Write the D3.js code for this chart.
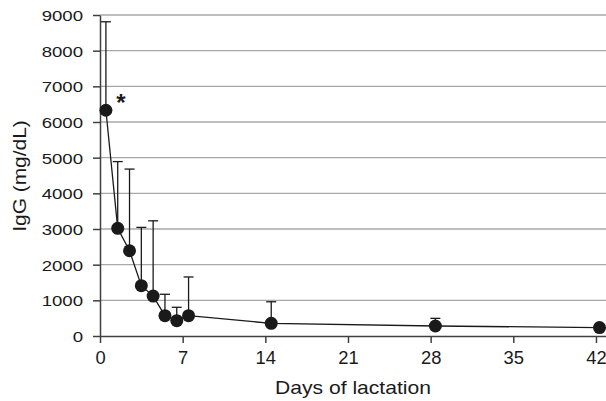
<!DOCTYPE html>
<html>
<head>
<meta charset="utf-8">
<script src="https://cdn.jsdelivr.net/npm/d3@7"></script>
<style>
  body { margin: 0; background: #fff; }
  text { font-family: "Liberation Sans", Arial, sans-serif; fill: #1a1a1a; }
</style>
</head>
<body>
<svg id="chart" width="606" height="401"></svg>
<script>
// days of lactation for each sample
const days = [0.5, 1.5, 2.5, 3.5, 4.5, 5.5, 6.5, 7.5, 14.5, 28.4, 42.3];
// mean IgG (mg/dL)
const igg = [6330, 3020, 2390, 1410, 1120, 570, 430, 570, 355, 280, 235];
// mean + SD (top of error bar)
const iggUpper = [8810, 4890, 4680, 3045, 3230, 1170, 805, 1655, 960, 495, 235];
const xTicks = [0, 7, 14, 21, 28, 35, 42];
const yTicks = [0, 1000, 2000, 3000, 4000, 5000, 6000, 7000, 8000, 9000];

const svg = d3.select("#chart");
const plotLeft = 100, plotRight = 606, plotTop = 15, plotBottom = 336;

const x = d3.scaleLinear().domain([0, 42.85]).range([plotLeft, plotRight]);
const y = d3.scaleLinear().domain([0, 9000]).range([plotBottom, plotTop]);

// stretch text horizontally (the figure's lettering is wide)
const widen = (sel, f) => sel.each(function () {
    const w = this.getComputedTextLength();
    d3.select(this).attr("textLength", w * f).attr("lengthAdjust", "spacingAndGlyphs");
});

// gridlines
svg.append("g")
    .selectAll("line")
    .data(yTicks.filter(d => d > 0))
    .join("line")
    .attr("x1", plotLeft)
    .attr("x2", plotRight)
    .attr("y1", d => y(d))
    .attr("y2", d => y(d))
    .attr("stroke", "#a8a8a8")
    .attr("stroke-width", 1.3);

// y axis
const yAxis = svg.append("g")
    .attr("transform", `translate(${plotLeft},0)`)
    .call(d3.axisLeft(y).tickValues(yTicks).tickFormat(d3.format("d"))
        .tickSize(7).tickPadding(10).tickSizeOuter(0));
yAxis.select(".domain").attr("stroke", "#404040").attr("stroke-width", 1.5);
yAxis.selectAll(".tick line").attr("stroke", "#404040").attr("stroke-width", 1.5);
yAxis.selectAll("text")
    .attr("font-size", 15.5)
    .attr("font-family", "Liberation Sans, Arial, sans-serif")
    .attr("fill", "#1a1a1a")
    .attr("dy", "0.36em")
    .call(widen, 1.2);

// x axis
const xAxis = svg.append("g")
    .attr("transform", `translate(0,${plotBottom})`)
    .call(d3.axisBottom(x).tickValues(xTicks).tickFormat(d3.format("d"))
        .tickSize(7).tickPadding(9).tickSizeOuter(0));
xAxis.select(".domain").attr("stroke", "#404040").attr("stroke-width", 1.5);
xAxis.selectAll(".tick line").attr("stroke", "#404040").attr("stroke-width", 1.5);
xAxis.selectAll("text")
    .attr("font-size", 17.5)
    .attr("font-family", "Liberation Sans, Arial, sans-serif")
    .attr("fill", "#1a1a1a")
    .call(widen, 1.05);

// error bars (upper only)
const pts = days.map((d, i) => ({ day: d, v: igg[i], up: iggUpper[i] }));
const err = svg.append("g").attr("stroke", "#1a1a1a").attr("stroke-width", 1.3);
err.selectAll(".stem")
    .data(pts)
    .join("line")
    .attr("class", "stem")
    .attr("x1", d => x(d.day))
    .attr("x2", d => x(d.day))
    .attr("y1", d => y(d.v))
    .attr("y2", d => y(d.up));
err.selectAll(".cap")
    .data(pts.filter(d => d.up > d.v))
    .join("line")
    .attr("class", "cap")
    .attr("x1", d => x(d.day) - 5)
    .attr("x2", d => x(d.day) + 5)
    .attr("y1", d => y(d.up))
    .attr("y2", d => y(d.up));

// mean line
svg.append("path")
    .datum(pts)
    .attr("fill", "none")
    .attr("stroke", "#1a1a1a")
    .attr("stroke-width", 1.3)
    .attr("d", d3.line().x(d => x(d.day)).y(d => y(d.v)));

svg.append("g")
    .selectAll("circle")
    .data(pts)
    .join("circle")
    .attr("cx", d => x(d.day))
    .attr("cy", d => y(d.v))
    .attr("r", 6.5)
    .attr("fill", "#1a1a1a");

// significance mark on day 0
svg.append("text")
    .attr("x", x(days[0]) + 15)
    .attr("y", y(igg[0]) + 1)
    .attr("text-anchor", "middle")
    .attr("font-size", 24)
    .attr("font-weight", "bold")
    .text("*");

// axis titles
svg.append("text")
    .attr("x", 353)
    .attr("y", 394)
    .attr("text-anchor", "middle")
    .attr("font-size", 18.5)
    .text("Days of lactation")
    .call(widen, 1.14);

svg.append("text")
    .attr("transform", "translate(26,176) rotate(-90)")
    .attr("text-anchor", "middle")
    .attr("font-size", 18.5)
    .text("IgG (mg/dL)")
    .call(widen, 1.13);
</script>
</body>
</html>
